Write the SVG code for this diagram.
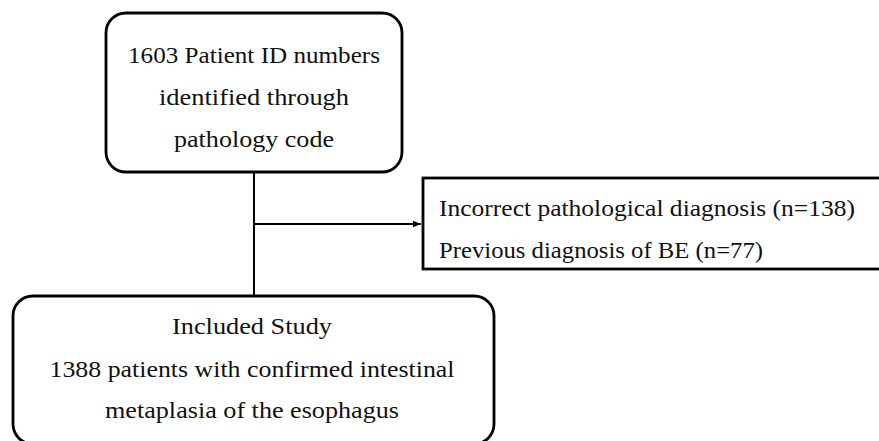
<svg xmlns="http://www.w3.org/2000/svg" width="879" height="441" viewBox="0 0 879 441">
<style>
.box{fill:#fff;stroke:#000;stroke-width:2.8}
.t{font-family:"Palatino Linotype","Book Antiqua",Palatino,"Liberation Serif","DejaVu Serif",serif;font-size:23px;fill:#111}
.c{text-anchor:middle}
.ln{stroke:#000;stroke-width:2;fill:none}
</style>
<defs>
<marker id="ah" viewBox="0 0 10 10" refX="10" refY="5" markerWidth="4" markerHeight="4" orient="auto" markerUnits="strokeWidth">
<path d="M0,1 L10,5 L0,9 z" fill="#000"/>
</marker>
</defs>
<rect width="879" height="441" fill="#fff"/>
<g id="connectors">
<line class="ln" x1="254" y1="172" x2="254" y2="297"/>
<line class="ln" x1="254" y1="224" x2="421" y2="224" marker-end="url(#ah)"/>
</g>
<g id="source">
<rect class="box" x="106" y="13" width="296" height="159" rx="20" ry="20"/>
<text class="t c" x="254" y="63" textLength="252" lengthAdjust="spacingAndGlyphs">1603 Patient ID numbers</text>
<text class="t c" x="254" y="105" textLength="190" lengthAdjust="spacingAndGlyphs">identified through</text>
<text class="t c" x="254" y="147" textLength="160" lengthAdjust="spacingAndGlyphs">pathology code</text>
</g>
<g id="excluded">
<rect class="box" x="423" y="178" width="470" height="91"/>
<text class="t" x="439" y="216" textLength="416" lengthAdjust="spacingAndGlyphs">Incorrect pathological diagnosis (n=138)</text>
<text class="t" x="439" y="258" textLength="324" lengthAdjust="spacingAndGlyphs">Previous diagnosis of BE (n=77)</text>
</g>
<g id="included">
<rect class="box" x="13" y="296" width="481" height="148" rx="20" ry="20"/>
<text class="t c" x="252" y="334" textLength="160" lengthAdjust="spacingAndGlyphs">Included Study</text>
<text class="t c" x="252" y="377" textLength="405" lengthAdjust="spacingAndGlyphs">1388 patients with confirmed intestinal</text>
<text class="t c" x="252" y="418" textLength="294" lengthAdjust="spacingAndGlyphs">metaplasia of the esophagus</text>
</g>
</svg>
